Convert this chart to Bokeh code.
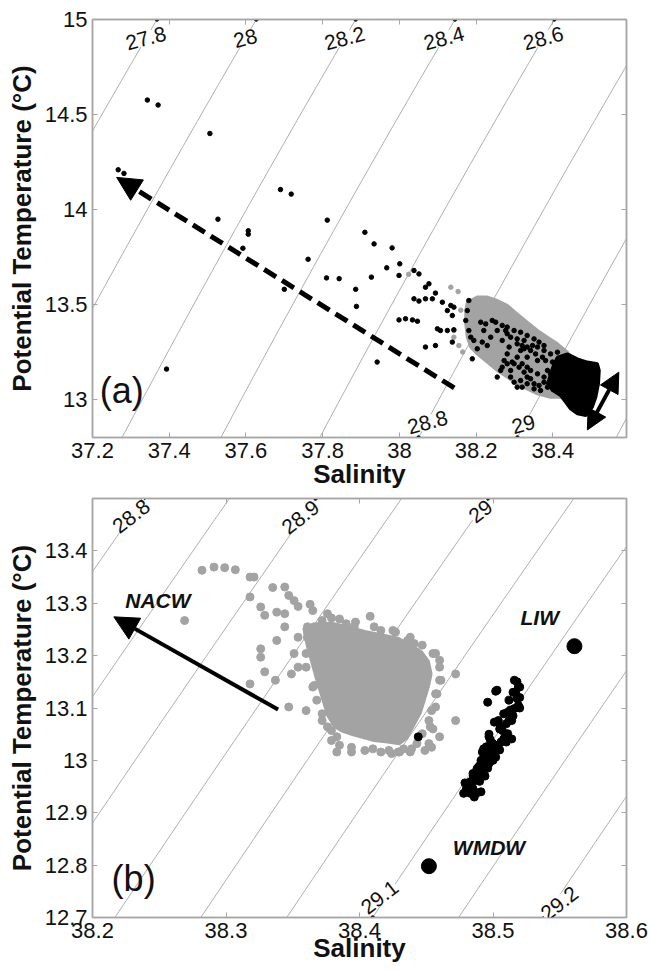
import numpy as np
from bokeh.plotting import figure
from bokeh.layouts import column
from bokeh.models import (Label, Arrow, NormalHead, LinearAxis, FixedTicker,
                          Range1d, NumeralTickFormatter, CustomJSTickFormatter)
from bokeh.embed import file_html
from bokeh.resources import INLINE

FONT = "Liberation Sans"
FRAME = "#a6a6a6"
ISO = "#ababab"
GREY = "#a3a3a3"

# ---------------------------------------------------------------- panel (a)
a_xticks = [37.2, 37.4, 37.6, 37.8, 38.0, 38.2, 38.4]
a_yticks = [13.0, 13.5, 14.0, 14.5, 15.0]
a_levels = [27.8, 28.0, 28.2, 28.4, 28.6, 28.8, 29.0, 29.2]
a_top_labels = [27.8, 28.0, 28.2, 28.4, 28.6]
a_bottom_labels = [28.8, 29.0]

# scattered station samples (black)
a_black_S = [37.343, 37.371, 37.506, 37.690, 37.718, 37.527, 37.606, 37.606, 37.592,
             37.762, 37.812, 37.810, 37.843, 37.910, 37.886, 37.888, 37.700, 37.393,
             37.267, 37.282,
             37.934, 37.981, 37.967, 38.001, 37.999, 38.038, 38.051, 37.927, 38.077,
             38.068, 38.094, 38.086, 38.112, 38.038, 38.051, 38.068, 38.134, 38.142,
             38.125, 38.138, 37.999, 38.016, 38.034, 38.047, 38.099, 38.107, 38.125,
             38.142, 38.068, 38.094, 38.138, 37.942, 38.181, 38.177, 38.173, 38.181,
             38.186, 38.194, 38.203, 38.190, 38.216, 38.229, 38.251, 38.225, 38.242,
             38.277, 38.281, 38.290, 38.307, 38.325, 38.286, 38.307, 38.273, 38.299,
             38.320, 38.333, 38.342, 38.360, 38.264, 38.255, 38.290, 38.316, 38.333,
             38.307, 38.281, 38.342, 38.360, 38.377, 38.394, 38.412, 38.360, 38.386,
             38.333, 38.316, 38.351, 38.325, 38.377, 38.399, 38.412,
             38.268, 38.281, 38.299, 38.316, 38.333, 38.351, 38.364, 38.377, 38.307,
             38.320, 38.333, 38.347, 38.355, 38.373, 38.381, 38.399, 38.407, 38.394,
             38.377, 38.364, 38.342, 38.325, 38.312, 38.294, 38.281, 38.268, 38.290,
             38.299, 38.320, 38.333, 38.351, 38.368, 38.386, 38.403, 38.416, 38.425,
             38.429, 38.438, 38.420, 38.446, 38.255, 38.238, 38.220, 38.212, 38.268]
a_black_T = [14.576, 14.550, 14.400, 14.105, 14.081, 13.949, 13.888, 13.870, 13.796,
             13.738, 13.944, 13.640, 13.636, 13.880, 13.580, 13.490, 13.580, 13.160,
             14.209, 14.190,
             13.819, 13.798, 13.693, 13.714, 13.653, 13.679, 13.661, 13.644, 13.609,
             13.591, 13.560, 13.530, 13.512, 13.530, 13.518, 13.530, 13.495, 13.486,
             13.468, 13.442, 13.419, 13.425, 13.419, 13.412, 13.372, 13.363, 13.363,
             13.367, 13.276, 13.284, 13.302, 13.197, 13.521, 13.468, 13.416, 13.363,
             13.328, 13.311, 13.267, 13.214, 13.302, 13.284, 13.407, 13.398, 13.416,
             13.363, 13.346, 13.328, 13.319, 13.311, 13.276, 13.223, 13.205, 13.188,
             13.188, 13.170, 13.153, 13.135, 13.153, 13.118, 13.118, 13.100, 13.118,
             13.065, 13.240, 13.258, 13.276, 13.258, 13.240, 13.249, 13.205, 13.153,
             13.223, 13.258, 13.083, 13.267, 13.118, 13.091, 13.065,
             13.390, 13.381, 13.363, 13.354, 13.337, 13.319, 13.302, 13.284, 13.293,
             13.284, 13.276, 13.284, 13.240, 13.223, 13.205, 13.197, 13.170, 13.135,
             13.091, 13.074, 13.109, 13.144, 13.170, 13.197, 13.188, 13.170, 13.153,
             13.091, 13.065, 13.083, 13.056, 13.047, 13.065, 13.118, 13.153, 13.188,
             13.118, 13.065, 13.083, 13.012, 13.363, 13.328, 13.363, 13.407, 13.311]

# scattered samples (grey)
a_grey_S = [38.134, 38.153, 38.142, 38.155, 38.142, 38.024, 38.165, 38.160]
a_grey_T = [13.591, 13.568, 13.363, 13.284, 13.328, 13.659, 13.250, 13.470]

# dense grey band and dense black core, as outlines
a_band_S = [38.177, 38.203, 38.229, 38.255, 38.281, 38.307, 38.333, 38.360, 38.386,
            38.412, 38.438, 38.455, 38.446, 38.429, 38.394, 38.360, 38.333, 38.307,
            38.281, 38.255, 38.229, 38.203, 38.186, 38.177, 38.173, 38.173]
a_band_T = [13.512, 13.539, 13.539, 13.521, 13.495, 13.451, 13.407, 13.363, 13.328,
            13.293, 13.249, 13.188, 13.065, 13.012, 13.012, 13.030, 13.056, 13.083,
            13.118, 13.153, 13.197, 13.240, 13.275, 13.328, 13.398, 13.468]
a_core_S = [38.412, 38.438, 38.464, 38.490, 38.516, 38.521, 38.519, 38.512, 38.503,
            38.486, 38.464, 38.446, 38.433, 38.420, 38.399, 38.386, 38.394, 38.403]
a_core_T = [13.223, 13.240, 13.214, 13.197, 13.188, 13.153, 13.083, 13.012, 12.960,
            12.916, 12.925, 12.951, 12.986, 13.021, 13.047, 13.083, 13.135, 13.188]

# mixing-line arrows (start -> end)
a_mix_S = [38.143, 37.263]
a_mix_T = [13.061, 14.169]
a_span_S = [38.490, 38.572]
a_span_T = [12.840, 13.144]

# ---------------------------------------------------------------- panel (b)
b_xticks = [38.2, 38.3, 38.4, 38.5, 38.6]
b_yticks = [12.7, 12.8, 12.9, 13.0, 13.1, 13.2, 13.3, 13.4]
b_levels = [28.8, 28.85, 28.9, 28.95, 29.0, 29.05, 29.1, 29.15, 29.2, 29.25]
b_top_labels = [28.8, 28.9, 29.0]
b_bottom_labels = [29.1, 29.2]

b_grey_S = [38.282, 38.291, 38.299, 38.307, 38.318, 38.321, 38.318, 38.269, 38.326,
            38.335, 38.344, 38.347, 38.351, 38.354, 38.329, 38.338, 38.344, 38.363,
            38.365, 38.376, 38.379, 38.390, 38.396, 38.408, 38.416, 38.427, 38.436,
            38.441, 38.326, 38.326, 38.329, 38.337, 38.318, 38.347, 38.360, 38.366,
            38.349, 38.338, 38.344, 38.354, 38.351, 38.354, 38.360, 38.372, 38.379,
            38.383, 38.383, 38.394, 38.404, 38.416, 38.429, 38.438, 38.454, 38.460,
            38.455, 38.472, 38.472, 38.460, 38.455, 38.461, 38.457, 38.454, 38.424,
            38.430, 38.439, 38.449, 38.453, 38.452,
            38.366, 38.361, 38.366, 38.360, 38.365, 38.368, 38.372, 38.376, 38.379,
            38.385, 38.394, 38.410, 38.422, 38.433, 38.443, 38.447, 38.452, 38.457,
            38.458, 38.460, 38.460, 38.457, 38.447, 38.438, 38.425, 38.411, 38.397,
            38.385, 38.372, 38.361]
b_grey_T = [13.363, 13.369, 13.368, 13.364, 13.350, 13.350, 13.312, 13.267, 13.293,
            13.330, 13.331, 13.315, 13.305, 13.294, 13.277, 13.283, 13.280, 13.298,
            13.286, 13.280, 13.272, 13.261, 13.255, 13.275, 13.248, 13.245, 13.229,
            13.223, 13.213, 13.197, 13.169, 13.153, 13.146, 13.102, 13.095, 13.143,
            13.165, 13.229, 13.255, 13.235, 13.204, 13.178, 13.204, 13.076, 13.057,
            13.045, 13.016, 13.016, 13.019, 13.016, 13.016, 13.016, 13.025, 13.045,
            13.060, 13.076, 13.165, 13.191, 13.204, 13.153, 13.127, 13.095, 13.013,
            13.016, 13.022, 13.019, 13.064, 13.032,
            13.255, 13.235, 13.216, 13.178, 13.140, 13.115, 13.089, 13.064, 13.038,
            13.029, 13.025, 13.022, 13.019, 13.022, 13.032, 13.051, 13.076, 13.102,
            13.127, 13.153, 13.178, 13.204, 13.220, 13.235, 13.248, 13.255, 13.264,
            13.270, 13.267, 13.255]

b_cloud_S = [38.358, 38.368, 38.379, 38.391, 38.404, 38.416, 38.429, 38.438, 38.447,
             38.452, 38.454, 38.452, 38.449, 38.446, 38.441, 38.436, 38.430, 38.421,
             38.411, 38.402, 38.394, 38.387, 38.381, 38.376, 38.373, 38.370, 38.367,
             38.364, 38.361, 38.359]
b_cloud_T = [13.252, 13.262, 13.263, 13.256, 13.247, 13.241, 13.234, 13.222, 13.207,
             13.189, 13.165, 13.141, 13.116, 13.091, 13.067, 13.043, 13.031, 13.034,
             13.037, 13.043, 13.049, 13.055, 13.064, 13.085, 13.109, 13.134, 13.159,
             13.187, 13.214, 13.236]

b_black_S = [38.516, 38.518, 38.519, 38.517, 38.518, 38.519, 38.516, 38.513, 38.511,
             38.508, 38.512, 38.514, 38.503, 38.502, 38.496, 38.501, 38.504, 38.497,
             38.511, 38.509, 38.514, 38.508, 38.506, 38.504, 38.503, 38.502, 38.499,
             38.498, 38.501, 38.496, 38.502, 38.493, 38.491, 38.494, 38.497, 38.492,
             38.489, 38.488, 38.491, 38.487, 38.489, 38.485, 38.488, 38.483, 38.479,
             38.484, 38.482, 38.485, 38.480, 38.483, 38.488, 38.491, 38.478, 38.492,
             38.493, 38.507, 38.506, 38.498, 38.500, 38.495, 38.496, 38.444,
             38.497, 38.505, 38.510, 38.515, 38.520, 38.515, 38.490, 38.494, 38.496,
             38.485, 38.480, 38.486, 38.490, 38.500, 38.505, 38.510, 38.500, 38.520,
             38.512, 38.520]
b_black_T = [13.153, 13.150, 13.140, 13.131, 13.118, 13.105, 13.099, 13.096, 13.092,
             13.089, 13.076, 13.076, 13.134, 13.132, 13.111, 13.073, 13.076, 13.045,
             13.051, 13.045, 13.041, 13.041, 13.035, 13.029, 13.026, 13.022, 13.019,
             13.016, 13.013, 13.010, 13.006, 13.006, 13.000, 12.997, 12.994, 12.991,
             12.987, 12.984, 12.978, 12.975, 12.968, 12.965, 12.962, 12.959, 12.957,
             12.952, 12.949, 12.946, 12.940, 12.937, 12.938, 12.940, 12.937, 13.016,
             13.022, 13.057, 13.064, 13.039, 13.032, 13.026, 13.020, 13.045,
             13.050, 13.060, 13.070, 13.085, 13.120, 13.130, 12.960, 12.970, 12.985,
             12.975, 12.945, 12.930, 12.990, 13.000, 13.020, 13.035, 13.030, 13.140,
             13.115, 13.100]

# source water types
b_types = ["LIW", "WMDW"]
b_types_S = [38.561, 38.452]
b_types_T = [13.218, 12.798]

b_nacw_S = [38.339, 38.216]
b_nacw_T = [13.097, 13.274]


# ---------------------------------------------------------------- helpers
def sigma_theta(S, T):
    """Potential density anomaly at the surface (UNESCO 1983)."""
    rw = (999.842594 + 6.793952e-2 * T - 9.095290e-3 * T**2 + 1.001685e-4 * T**3
          - 1.120083e-6 * T**4 + 6.536332e-9 * T**5)
    A = (8.24493e-1 - 4.0899e-3 * T + 7.6438e-5 * T**2 - 8.2467e-7 * T**3
         + 5.3875e-9 * T**4)
    B = -5.72466e-3 + 1.0227e-4 * T - 1.6546e-6 * T**2
    return rw + A * S + B * S**1.5 + 4.8314e-4 * S**2 - 1000.0


def salinity_on(level, T):
    """Salinity at which sigma_theta equals `level` for temperature(s) T."""
    T = np.asarray(T, dtype=float)
    lo = np.full_like(T, 30.0)
    hi = np.full_like(T, 42.0)
    for _ in range(60):
        mid = 0.5 * (lo + hi)
        above = sigma_theta(mid, T) > level
        hi = np.where(above, mid, hi)
        lo = np.where(above, lo, mid)
    return 0.5 * (lo + hi)


def make_panel(xr, yr, xticks, yticks, height, top_border, bottom_border, title_gap):
    p = figure(width=650, height=height, x_range=Range1d(*xr), y_range=Range1d(*yr),
               output_backend="svg", toolbar_location=None,
               min_border_left=92, min_border_right=24,
               min_border_top=top_border, min_border_bottom=bottom_border)
    p.xgrid.visible = False
    p.ygrid.visible = False
    p.outline_line_color = FRAME
    p.outline_line_width = 1.5
    p.background_fill_color = "white"
    p.border_fill_color = "white"

    fmt = NumeralTickFormatter(format="0.[0]")
    for ax, ticks in ((p.xaxis[0], xticks), (p.yaxis[0], yticks)):
        ax.ticker = FixedTicker(ticks=ticks)
        ax.formatter = fmt
        ax.axis_line_color = FRAME
        ax.axis_line_width = 1.5
        ax.major_tick_line_color = FRAME
        ax.major_tick_in = 5
        ax.major_tick_out = 0
        ax.minor_tick_line_color = None
        ax.major_label_text_font = FONT
        ax.major_label_text_font_size = "22px"
        ax.major_label_text_color = "#111111"
        ax.axis_label_text_font = FONT
        ax.axis_label_text_font_style = "bold"
        ax.axis_label_text_font_size = "26px"
        ax.axis_label_text_color = "#111111"
    p.xaxis[0].axis_label = "Salinity"
    p.yaxis[0].axis_label = "Potential Temperature (°C)"
    p.xaxis[0].major_label_standoff = 5
    p.xaxis[0].axis_label_standoff = title_gap
    p.yaxis[0].major_label_standoff = 5
    p.yaxis[0].axis_label_standoff = 5

    blank = CustomJSTickFormatter(code="return ''")
    for side, ticks in (("above", xticks), ("right", yticks)):
        ax = LinearAxis(ticker=FixedTicker(ticks=ticks), formatter=blank,
                        axis_line_color=FRAME, axis_line_width=1.5,
                        major_tick_line_color=FRAME, major_tick_in=5, major_tick_out=0,
                        minor_tick_line_color=None, major_label_standoff=0,
                        major_label_text_font_size="0px")
        p.add_layout(ax, side)
    return p


def isopycnals(p, levels, yr, top_labels, bottom_labels, angle, top_off, bot_off):
    Tl = np.linspace(yr[0], yr[1], 200)
    for lv in levels:
        p.line(salinity_on(lv, Tl), Tl, line_color=ISO, line_width=1)
    for labels, Te, offs in ((top_labels, yr[1], top_off), (bottom_labels, yr[0], bot_off)):
        for lv, (dx, dy) in zip(labels, offs):
            s = float(salinity_on(lv, Te))
            p.scatter([s], [Te], size=3.5, color="black")
            p.add_layout(Label(x=s, y=Te, x_offset=dx, y_offset=dy, text=f"{lv:g}",
                               angle=angle, angle_units="deg", text_align="center",
                               text_baseline="middle", text_font=FONT,
                               text_font_size="21px", text_color="#111111",
                               background_fill_color="white",
                               background_fill_alpha=1.0))


# ---------------------------------------------------------------- draw (a)
a_xr, a_yr = (37.2, 38.592), (12.8, 15.0)
pa = make_panel(a_xr, a_yr, a_xticks, a_yticks, 495, 19, 58, -2)
isopycnals(pa, a_levels, a_yr, a_top_labels, a_bottom_labels, 15,
           [(-11, -19)] * 5, [(9, 15), (6, 13)])

pa.patch(a_band_S, a_band_T, fill_color=GREY, line_color=GREY, line_width=3)
pa.scatter(a_grey_S, a_grey_T, size=4.5, color=GREY)
pa.patch(a_core_S, a_core_T, fill_color="black", line_color="black", line_width=3)
pa.scatter(a_black_S, a_black_T, size=4.5, color="black")

pa.add_layout(Arrow(x_start=a_mix_S[0], y_start=a_mix_T[0], x_end=a_mix_S[1], y_end=a_mix_T[1],
                    line_width=5, line_dash="14 7", line_color="black",
                    end=NormalHead(size=24, fill_color="black", line_color="black")))
pa.add_layout(Arrow(x_start=a_span_S[0], y_start=a_span_T[0], x_end=a_span_S[1], y_end=a_span_T[1],
                    line_width=4, line_color="black",
                    start=NormalHead(size=20, fill_color="black", line_color="black"),
                    end=NormalHead(size=20, fill_color="black", line_color="black")))
pa.add_layout(Label(x=37.276, y=13.047, text="(a)", text_align="center", text_baseline="middle",
                    text_font=FONT, text_font_size="36px", text_color="#111111"))

# ---------------------------------------------------------------- draw (b)
b_xr, b_yr = (38.2, 38.6), (12.7, 13.5)
pb = make_panel(b_xr, b_yr, b_xticks, b_yticks, 475, 3, 53, -8)
isopycnals(pb, b_levels, b_yr, b_top_labels, b_bottom_labels, 38,
           [(-12, -18), (-15, -19), (-7, -13)], [(7, 20), (15, 14)])

pb.patch(b_cloud_S, b_cloud_T, fill_color=GREY, line_color=GREY, line_width=2)
pb.scatter(b_grey_S, b_grey_T, size=8, color=GREY)
pb.scatter(b_black_S, b_black_T, size=8, color="black")
pb.scatter(b_types_S, b_types_T, size=15, color="black")

pb.add_layout(Arrow(x_start=b_nacw_S[0], y_start=b_nacw_T[0], x_end=b_nacw_S[1], y_end=b_nacw_T[1],
                    line_width=4, line_color="black",
                    end=NormalHead(size=24, fill_color="black", line_color="black")))
for name, x, y in (("NACW", 38.249, 13.305), ("LIW", 38.535, 13.273), ("WMDW", 38.497, 12.834)):
    pb.add_layout(Label(x=x, y=y, text=name, text_align="center", text_baseline="middle",
                        text_font=FONT, text_font_style="bold italic", text_font_size="21px",
                        text_color="#111111"))
pb.add_layout(Label(x=38.2308, y=12.775, text="(b)", text_align="center", text_baseline="middle",
                    text_font=FONT, text_font_size="36px", text_color="#111111"))

layout = column(pa, pb, spacing=0)
open("out.html", "w").write(file_html(layout, INLINE))
